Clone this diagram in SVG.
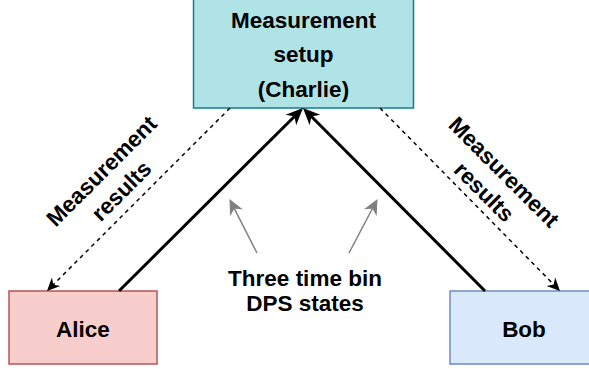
<svg xmlns="http://www.w3.org/2000/svg" width="589" height="369" viewBox="0 0 589 369">
<style>
.t{font-family:"Liberation Sans",Arial,Helvetica,sans-serif;font-weight:bold;font-size:22.5px;fill:#000;text-anchor:middle}
.solid{stroke:#000;stroke-width:3;fill:none}
.dash{stroke:#000;stroke-width:1.5;stroke-dasharray:4 4;fill:none}
.gray{stroke:#808080;stroke-width:1.5;fill:none}
</style>
<defs>
<marker id="ms" markerUnits="userSpaceOnUse" orient="auto" refX="-6" refY="0" markerWidth="40" markerHeight="40" overflow="visible">
<path d="M-17,-7.5 L0,0 L-17,7.5 L-12,0 z" fill="#000"/>
</marker>
<marker id="md" markerUnits="userSpaceOnUse" orient="auto" refX="-4" refY="0" markerWidth="30" markerHeight="30" overflow="visible">
<path d="M-13,-6 L0,0 L-13,6 L-9,0 z" fill="#000"/>
</marker>
<marker id="mg" markerUnits="userSpaceOnUse" orient="auto" refX="-4" refY="0" markerWidth="30" markerHeight="30" overflow="visible">
<path d="M-13,-6 L0,0 L-13,6 L-9,0 z" fill="#808080" stroke="#808080" stroke-width="1"/>
</marker>
</defs>
<g id="charlie">
<rect x="193.5" y="-2" width="220" height="110" fill="#b0e3e6" stroke="#0e8088" stroke-width="1.5"/>
<text class="t" x="303.5" y="27.5">Measurement</text>
<text class="t" x="303.5" y="62">setup</text>
<text class="t" x="303.5" y="96.5">(Charlie)</text>
</g>
<g id="alice">
<rect x="9" y="291" width="148" height="73" fill="#f8cecc" stroke="#b85450" stroke-width="1.5"/>
<text class="t" x="83" y="337">Alice</text>
</g>
<g id="bob">
<rect x="450" y="291" width="148" height="73" fill="#dae8fc" stroke="#6c8ebf" stroke-width="1.5"/>
<text class="t" x="524" y="337">Bob</text>
</g>
<g id="connectors">
<line class="solid" x1="119" y1="291" x2="298.7" y2="112.2" marker-end="url(#ms)"/>
<line class="solid" x1="485" y1="291" x2="307.2" y2="112.2" marker-end="url(#ms)"/>
<line class="dash" x1="230" y1="108" x2="49.8" y2="288.2" marker-end="url(#md)"/>
<line class="dash" x1="380" y1="108" x2="557.2" y2="288.1" marker-end="url(#md)"/>
<line class="gray" x1="257" y1="253" x2="231.8" y2="203.6" marker-end="url(#mg)"/>
<line class="gray" x1="349" y1="253" x2="375.1" y2="203.5" marker-end="url(#mg)"/>
</g>
<g id="label-left" transform="translate(112,181.5) rotate(-45)">
<text class="t" x="0" y="-7">Measurement</text>
<text class="t" x="0" y="21">results</text>
</g>
<g id="label-right" transform="translate(493.5,182.5) rotate(45)">
<text class="t" x="0" y="-7">Measurement</text>
<text class="t" x="0" y="21">results</text>
</g>
<g id="label-center">
<text class="t" x="305" y="286">Three time bin</text>
<text class="t" x="305" y="311">DPS states</text>
</g>
</svg>
